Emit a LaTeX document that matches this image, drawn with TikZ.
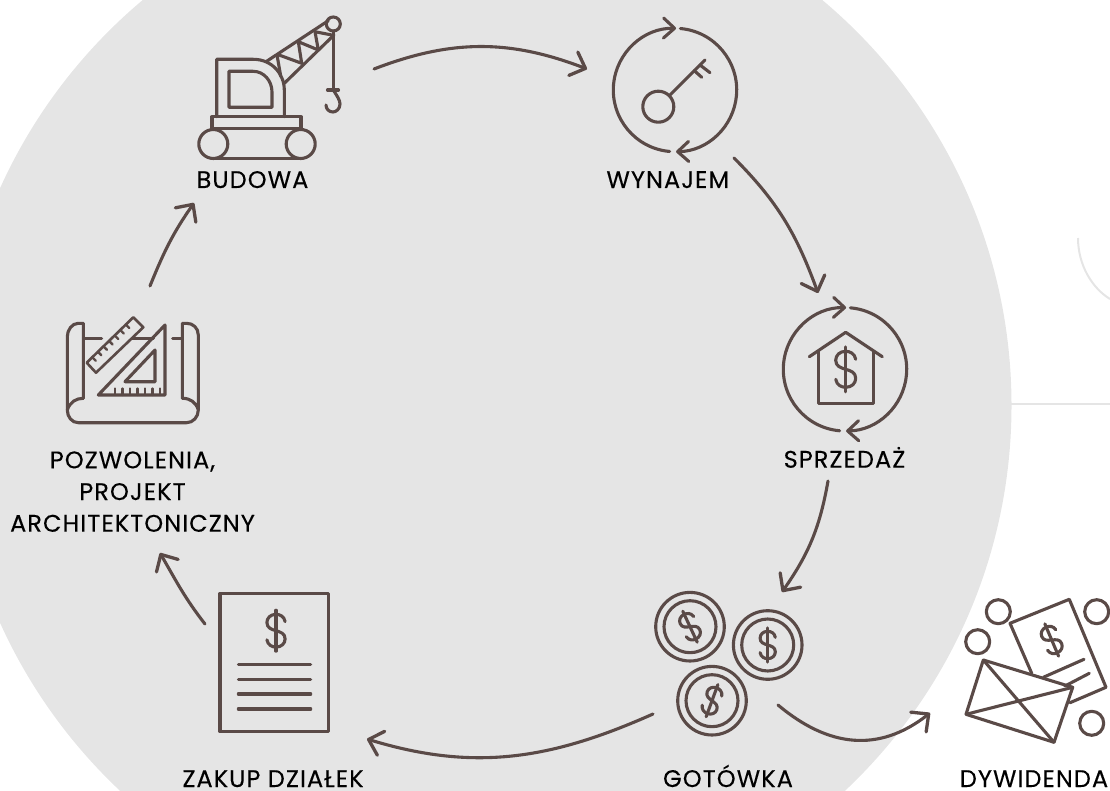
\documentclass[tikz,border=0pt]{standalone}
\usepackage{fontspec}
\setmainfont{Poppins}[LetterSpace=4.5,FakeBold=0.2]
\usetikzlibrary{arrows.meta,calc}
\definecolor{iconbrown}{HTML}{5A4A47}
\definecolor{discgray}{HTML}{E5E5E5}
\tikzset{
    icon/.style={draw=iconbrown, line width=3.1pt, line join=round, line cap=round},
    flow/.style={icon, -{Straight Barb[length=13pt,width=25pt,line width=3.3pt,line cap=round,line join=round]}},
    ringarrow/.style={icon, -{Straight Barb[length=11pt,width=20pt,line width=3.1pt,line cap=round,line join=round]}},
    caption/.style={text=black, font=\fontsize{24}{28}\selectfont, align=center, inner sep=0pt, anchor=base, text depth=0pt},
    pics/dollarsign/.style={code={
        \draw[icon] (10,10) .. controls (9,16) and (4,18) .. (0,18)
            .. controls (-6,18) and (-10,14) .. (-10,9)
            .. controls (-10,3) and (-5,1.5) .. (0,0)
            .. controls (5,-1.5) and (10,-3) .. (10,-9)
            .. controls (10,-14) and (6,-18) .. (0,-18)
            .. controls (-4,-18) and (-9,-16) .. (-10,-10);
        \draw[icon] (0,22.5) -- (0,-22.5);
    }},
    pics/cyclering/.style={code={
        \draw[ringarrow] (-95:61.7) arc[start angle=-95, end angle=-271, radius=61.7];
        \draw[ringarrow] (-275:61.7) arc[start angle=-275, end angle=-449, radius=61.7];
    }},
    pics/coin/.style={code={
        \draw[icon] (0,0) circle (34.3);
        \draw[icon] (0,0) circle (26);
    }},
}
\begin{document}
\begin{tikzpicture}[x=1pt, y=1pt, yscale=-1]
    \useasboundingbox (0,0) rectangle (1110,791);
    \clip (0,0) rectangle (1110,791);

    % Background
    \fill[discgray] (482.5,405.5) circle (529);
    \draw[discgray, line width=2pt] (1011,404) -- (1110,404);
    \draw[discgray, line width=2pt] (1078,238) .. controls (1078,265) and (1092,288) .. (1110,299);

    % Crane
    \draw[icon] (216.7,116.7) -- (216.7,59.3) -- (253.3,59.3) .. controls (272,59.3) and (284.3,74) .. (284.3,90) -- (284.3,116.7);
    \draw[icon] (229,71.3) -- (253,71.3) .. controls (264,71.3) and (272,81) .. (272,92) -- (272,107.3) -- (229,107.3) -- cycle;
    \draw[icon] (212,128.3) rectangle (301,116.7);
    \draw[icon] (213.3,144) circle (14.5);
    \draw[icon] (300.7,144) circle (14.5);
    \draw[icon] (213.3,158.5) -- (300.7,158.5);
    \draw[icon] (266,61.7) -- (328.3,20.7);
    \draw[icon] (284.3,83.3) -- (334,35);
    \draw[icon] (333.3,24) circle (7);
    \draw[icon] (277.3,56.7) -- (280.7,76) (279,55) -- (301.7,63.3) -- (298.3,41.7) -- (318.3,50) -- (315,31.7) -- (331.7,35);
    \draw[icon] (333.3,31) -- (333.3,90);
    \draw[icon] (327.5,90) -- (338.5,90);
    \draw[icon] (333.3,90) .. controls (337,96) and (340,100) .. (340,104) .. controls (340,109) and (336,112) .. (333,112) .. controls (329,112) and (326,109) .. (326,105);
    \node[caption] (budowa) at (252.5,188) {BUDOWA};

    % Key
    \pic at (675,90) {cyclering};
    \draw[icon] (658.3,106.7) circle (15.5);
    \draw[icon] (669.3,95.7) -- (705,60);
    \draw[icon] (700,65) -- (710,72.7);
    \draw[icon] (694.3,70.7) -- (701.7,77.3);
    \node[caption] (wynajem) at (667.8,188) {WYNAJEM};

    % House
    \pic at (845,369.3) {cyclering};
    \draw[icon] (809.3,356.7) -- (845.7,332.3) -- (882.3,356.7);
    \draw[icon] (818.3,351.7) -- (818.3,403.3) -- (873.3,403.3) -- (873.3,351.7);
    \pic[scale=1] at (845.7,369.3) {dollarsign};
    \node[caption] (sprzedaz) at (844.5,467.7) {SPRZEDAŻ};

    % Coins
    \pic at (690,626.7) {coin};
    \pic at (767.7,645) {coin};
    \pic at (712,700.7) {coin};
    \pic[scale=.76, rotate=25] at (690,626.7) {dollarsign};
    \pic[scale=.76] at (767.7,645) {dollarsign};
    \pic[scale=.76, rotate=-20] at (712,700.7) {dollarsign};
    \node[caption] (gotowka) at (728,787) {GOTÓWKA};

    % Envelope
    \draw[icon] (1031.7,673.3) -- (1010,623.3) -- (1069.3,599.3) -- (1106,687.3) -- (1070,702.7);
    \draw[icon] (1043.3,677.3) -- (1084,659.3);
    \draw[icon] (1065,686) -- (1089.3,673.3);
    \pic[scale=.78, rotate=23] at (1051.7,640) {dollarsign};
    \draw[icon] (983.3,660) -- (1072.7,687.3) -- (1054,742.3) -- (966,714.3) -- cycle;
    \draw[icon] (983.3,660) -- (1054,742.3);
    \draw[icon] (966,714.3) -- (1072.7,687.3);
    \foreach \cx/\cy in {998.3/611.7, 977.7/641.7, 1096.7/611.7, 1091.7/723.3} {
        \draw[icon] (\cx,\cy) circle (12);
    }
    \node[caption] (dywidenda) at (1034,787) {DYWIDENDA};

    % Document
    \draw[icon] (220,593.3) rectangle (328.3,731.7);
    \pic[scale=.91] at (276,630.7) {dollarsign};
    \foreach \y in {664.3, 679.3, 694, 709} {
        \draw[icon] (238.3,\y) -- (310.7,\y);
    }
    \node[caption] (zakup) at (273,787) {ZAKUP DZIAŁEK};

    % Blueprint
    \draw[icon] (83.3,398.3) -- (83.3,323.3) -- (78.3,323.3) .. controls (72,323.3) and (67.3,330) .. (67.3,336.7) -- (67.3,410)
        .. controls (67.3,417) and (72,422.7) .. (78.3,422.7) -- (186.7,422.7)
        .. controls (193,422.7) and (198.3,417) .. (198.3,410) -- (198.3,335)
        .. controls (198.3,328) and (193,323.3) .. (186.7,323.3) -- (182.3,323.3) -- (182.3,398.3)
        .. controls (190,398.3) and (196,402) .. (198.3,410);
    \draw[icon] (83.3,398.3) .. controls (76,398.3) and (70,402) .. (67.3,410);
    \draw[icon] (84.3,338.3) -- (101.7,338.3);
    \draw[icon] (131.7,338.3) -- (153.3,338.3);
    \draw[icon] (172.7,338.3) -- (181.7,338.3);
    % Ruler
    \coordinate (rulera) at (86.7,362.7);
    \coordinate (rulerb) at (133.3,317.3);
    \draw[icon, line width=2.6pt] (rulerb) -- (143.3,327.3) -- (96,372.7) -- (rulera) -- cycle;
    \foreach \t in {.12,.24,.36,.48,.6,.72,.84} {
        \draw[icon, line width=2.4pt] ($(rulera)!\t!(rulerb)$) -- ++(3.5,3.5);
    }
    % Set square
    \draw[icon] (165,325) -- (165,395) -- (98.3,395) -- cycle;
    \draw[icon] (155,350) -- (155,381.7) -- (125,381.7) -- cycle;
    \foreach \x in {115,122.5,130,137.5,145,152.5,160} {
        \draw[icon, line width=2.4pt] (\x,395) -- (\x,388.5);
    }
    \node[caption] (pozwolenia) at (132.5,468.3) {POZWOLENIA,};
    \node[caption] (projekt) at (132.5,500) {PROJEKT};
    \node[caption] (architekt) at (132.5,531.7) {ARCHITEKTONICZNY};

    % Cycle connectors
    \coordinate (budowaout) at (374,69);
    \coordinate (wynajemin) at (587,69);
    \coordinate (wynajemout) at (734,158);
    \coordinate (sprzedazin) at (818,293);
    \coordinate (sprzedazout) at (828,481);
    \coordinate (gotowkain) at (782,592);
    \coordinate (gotowkaout) at (653,714);
    \coordinate (zakupin) at (367,739);
    \coordinate (gotowkadiv) at (778,705);
    \coordinate (dywidendain) at (930,713);
    \coordinate (zakupout) at (205,624);
    \coordinate (projektin) at (160,553);
    \coordinate (projektout) at (150,286);
    \coordinate (budowain) at (194,203);
    \draw[flow] (budowaout) to[out=-21, in=-159] (wynajemin);
    \draw[flow] (wynajemout) to[out=45, in=-110] (sprzedazin);
    \draw[flow] (sprzedazout) to[out=100, in=-55] (gotowkain);
    \draw[flow] (gotowkaout) to[out=156, in=17] (zakupin);
    \draw[flow] (gotowkadiv) to[out=40, in=142, looseness=1.1] (dywidendain);
    \draw[flow] (zakupout) to[out=232, in=60] (projektin);
    \draw[flow] (projektout) to[out=-68, in=125] (budowain);
\end{tikzpicture}
\end{document}
